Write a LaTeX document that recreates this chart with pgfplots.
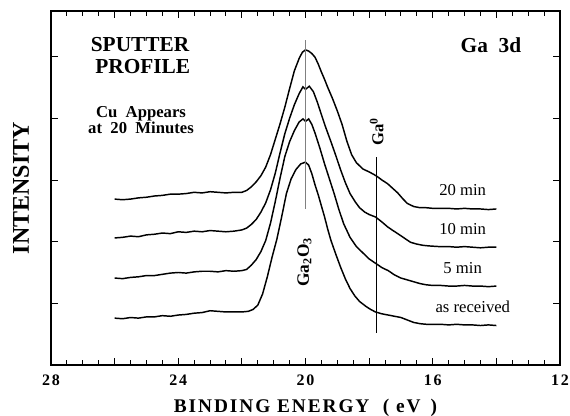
\documentclass[border=0pt]{standalone}
\usepackage{fontspec}
\setmainfont{Liberation Serif}
\newfontfamily\spacedfont[LetterSpace=10]{Liberation Serif}
\newfontfamily\tickfont[LetterSpace=10]{Liberation Serif}
\usepackage{pgfplots}
\pgfplotsset{compat=1.18}

% XPS Ga 3d sputter profile, four spectra offset vertically
\pgfplotstableread{
x y
26.0 0.76
25.75 0.75
25.5 0.77
25.25 0.76
25.0 0.78
24.75 0.78
24.5 0.80
24.25 0.79
24.0 0.81
23.75 0.82
23.5 0.84
23.25 0.85
23.0 0.88
22.75 0.87
22.5 0.86
22.25 0.86
22.0 0.86
21.8 0.87
21.65 0.90
21.5 0.97
21.35 1.15
21.2 1.43
21.05 1.75
20.9 2.04
20.75 2.40
20.6 2.78
20.45 3.02
20.3 3.17
20.15 3.26
20.0 3.29
19.9 3.24
19.8 3.10
19.7 2.92
19.6 2.76
19.5 2.58
19.4 2.40
19.3 2.20
19.2 2.02
19.05 1.80
18.9 1.59
18.75 1.40
18.6 1.24
18.45 1.12
18.3 1.03
18.1 0.95
17.95 0.90
17.8 0.86
17.6 0.83
17.4 0.81
17.2 0.79
17.0 0.77
16.8 0.73
16.6 0.69
16.4 0.67
16.2 0.66
16.0 0.66
15.75 0.66
15.5 0.65
15.25 0.66
15.0 0.65
14.75 0.65
14.5 0.64
14.25 0.65
14.0 0.64
}\asreceived

\pgfplotstableread{
x y
26.0 1.41
25.75 1.40
25.5 1.42
25.25 1.43
25.0 1.45
24.75 1.45
24.5 1.47
24.25 1.49
24.0 1.50
23.75 1.49
23.5 1.51
23.25 1.52
23.0 1.52
22.75 1.51
22.5 1.53
22.25 1.52
22.0 1.53
21.85 1.55
21.7 1.62
21.55 1.71
21.4 1.84
21.25 2.02
21.1 2.30
20.95 2.65
20.8 3.03
20.65 3.38
20.5 3.62
20.35 3.80
20.2 3.94
20.08 3.99
20.0 3.95
19.9 3.99
19.8 3.90
19.7 3.76
19.55 3.52
19.4 3.26
19.25 3.02
19.1 2.78
18.95 2.52
18.8 2.29
18.6 2.07
18.4 1.92
18.2 1.82
18.0 1.72
17.8 1.65
17.6 1.58
17.4 1.53
17.2 1.46
17.0 1.41
16.8 1.38
16.6 1.35
16.4 1.32
16.2 1.30
16.0 1.29
15.75 1.29
15.5 1.28
15.25 1.28
15.0 1.29
14.75 1.28
14.5 1.28
14.25 1.27
14.0 1.28
}\fivemin

\pgfplotstableread{
x y
26.0 2.06
25.75 2.07
25.5 2.09
25.25 2.08
25.0 2.11
24.75 2.12
24.5 2.14
24.25 2.13
24.0 2.16
23.75 2.15
23.5 2.17
23.25 2.16
23.0 2.18
22.75 2.17
22.5 2.16
22.25 2.17
22.0 2.19
21.85 2.22
21.7 2.28
21.55 2.36
21.4 2.48
21.25 2.63
21.1 2.84
20.95 3.11
20.8 3.44
20.65 3.75
20.5 4.00
20.35 4.22
20.2 4.40
20.08 4.51
20.0 4.47
19.88 4.52
19.75 4.43
19.62 4.25
19.5 4.06
19.37 3.86
19.2 3.62
19.05 3.40
18.9 3.17
18.75 2.96
18.6 2.78
18.43 2.64
18.3 2.55
18.14 2.48
18.0 2.44
17.8 2.40
17.6 2.32
17.42 2.24
17.25 2.18
17.1 2.13
16.9 2.06
16.7 1.99
16.5 1.96
16.3 1.94
16.1 1.93
15.8 1.92
15.5 1.92
15.25 1.91
15.0 1.92
14.75 1.91
14.5 1.90
14.25 1.91
14.0 1.91
}\tenmin

\pgfplotstableread{
x y
26.0 2.69
25.75 2.68
25.5 2.69
25.25 2.71
25.0 2.72
24.75 2.74
24.5 2.75
24.25 2.77
24.0 2.77
23.75 2.78
23.5 2.80
23.25 2.79
23.0 2.81
22.75 2.80
22.5 2.79
22.25 2.80
22.0 2.80
21.85 2.83
21.7 2.89
21.55 2.97
21.4 3.07
21.25 3.21
21.1 3.41
20.95 3.66
20.8 3.91
20.65 4.18
20.5 4.48
20.35 4.77
20.2 4.97
20.1 5.07
20.0 5.11
19.9 5.09
19.8 5.05
19.7 4.99
19.6 4.88
19.5 4.75
19.4 4.63
19.3 4.50
19.15 4.32
19.0 4.12
18.85 3.90
18.7 3.63
18.55 3.41
18.4 3.28
18.2 3.18
18.0 3.13
17.85 3.09
17.73 3.05
17.6 3.00
17.42 2.94
17.25 2.86
17.1 2.79
16.95 2.70
16.8 2.62
16.6 2.57
16.4 2.55
16.2 2.55
16.0 2.54
15.75 2.54
15.5 2.54
15.25 2.53
15.0 2.54
14.75 2.53
14.5 2.53
14.25 2.52
14.0 2.53
}\twentymin

\begin{document}
\begin{tikzpicture}
\begin{axis}[
    name=ax,
    scale only axis,
    width=381.75pt, height=265.5pt,
    xmin=12, xmax=28, x dir=reverse,
    ymin=0, ymax=5.74,
    xtick={12,14,...,28},
    xticklabels={12,,16,,20,,24,,28},
    minor x tick num=3,
    ytick={1,2,3,4,5},
    yticklabels={},
    tick align=inside,
    major tick length=5pt,
    minor tick length=3.5pt,
    axis line style={line width=0.8pt},
    every tick/.style={black, line width=0.7pt},
    xticklabel style={font=\tickfont\bfseries\fontsize{12}{12}\selectfont, yshift=-4pt},
    xlabel={BINDING ENERGY \ ( eV \,)},
    xlabel style={font=\spacedfont\bfseries\fontsize{14.5}{15}\selectfont, yshift=-3pt},
    ylabel={INTENSITY},
    ylabel style={font=\bfseries\fontsize{18}{18}\selectfont, yshift=6pt},
    clip=false,
  ]
  \addplot[black, line width=1.1pt] table[x=x, y=y] {\asreceived};
  \addplot[black, line width=1.1pt] table[x=x, y=y] {\fivemin};
  \addplot[black, line width=1.1pt] table[x=x, y=y] {\tenmin};
  \addplot[black, line width=1.1pt] table[x=x, y=y] {\twentymin};
  % peak markers
  \addplot[gray, line width=0.5pt] coordinates {(20,2.53) (20,5.27)};
  \addplot[black, line width=0.75pt] coordinates {(17.76,0.52) (17.76,3.37)};

  \node[font=\bfseries\fontsize{16}{16.5}\selectfont, align=center] at (axis cs:25.2,5.01)
    {SPUTTER\\\ PROFILE};
  \node[font=\bfseries\fontsize{12.5}{12}\selectfont, align=center] at (axis cs:25.17,3.97)
    {Cu\ \ Appears\\at\ \ 20\ \ Minutes};
  \node[font=\bfseries\fontsize{16}{16}\selectfont] at (axis cs:14.17,5.19) {Ga\ \ 3d};
  \node[font=\bfseries\fontsize{12.5}{12.5}\selectfont, rotate=90] at (axis cs:17.76,3.78)
    {Ga\textsuperscript{0}};
  \node[font=\bfseries\fontsize{13}{13}\selectfont, rotate=90] at (axis cs:20.03,1.67)
    {Ga\textsubscript{2}O\textsubscript{3}};
  \node[font=\fontsize{12.5}{12.5}\selectfont] at (axis cs:15.06,2.84) {20 min};
  \node[font=\fontsize{12.5}{12.5}\selectfont] at (axis cs:15.06,2.20) {10 min};
  \node[font=\fontsize{12.5}{12.5}\selectfont] at (axis cs:15.06,1.57) {5 min};
  \node[font=\fontsize{12.5}{12.5}\selectfont] at (axis cs:14.74,0.94) {as received};
\end{axis}
\pgfresetboundingbox
\path ([shift={(-38.25pt,-38.25pt)}]ax.south west) rectangle ([shift={(7.5pt,8.25pt)}]ax.north east);
\end{tikzpicture}
\end{document}
